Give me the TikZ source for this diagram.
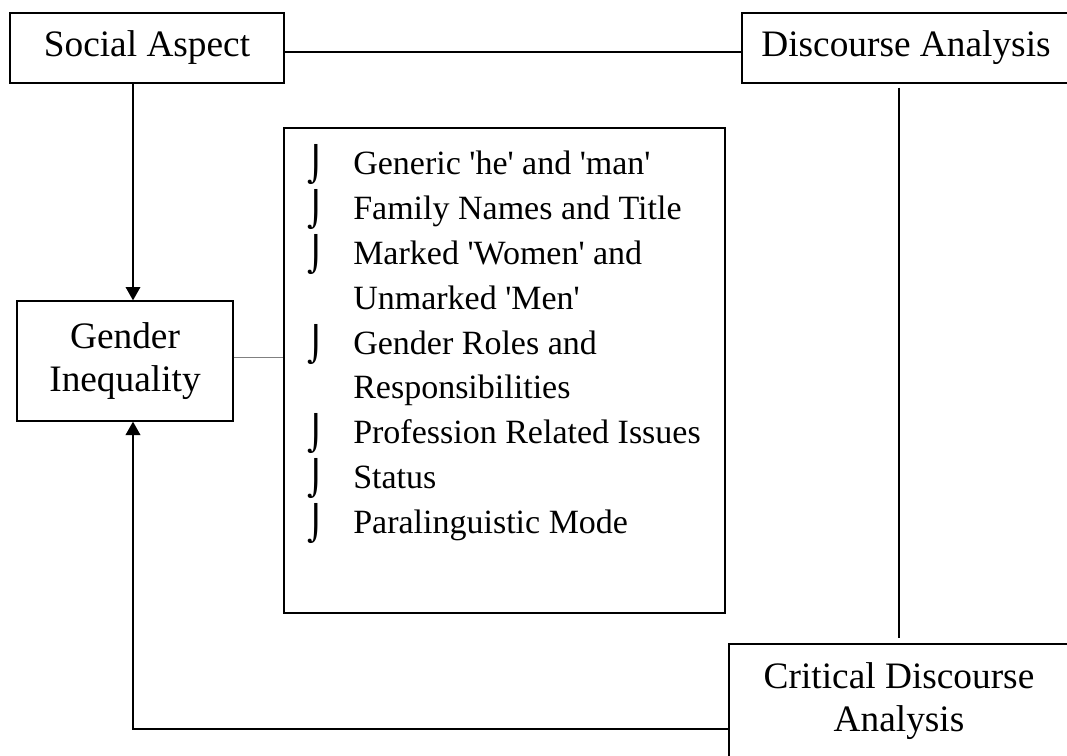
\documentclass[tikz,border=0pt]{standalone}
\usepackage{fontspec}
\setmainfont{Liberation Serif}[Ligatures=TeXOff]
\newfontfamily\bulletfont{DejaVu Sans}
\usepackage{tikz}
\usetikzlibrary{arrows.meta,calc}
\tikzset{
  box/.style={draw=black, line width=1pt, align=center, inner sep=0pt, font=\fontsize{28}{32}\selectfont},
  link/.style={draw=black, line width=1pt},
  thinlink/.style={draw=gray, line width=0.7pt},
  arr/.style={link, -{Triangle[length=10pt,width=11pt]}},
  itm/.style={anchor=base west, inner sep=0pt, font=\fontsize{25.5}{30}\selectfont},
  blt/.style={anchor=base, inner sep=0pt, font=\bulletfont\fontsize{25.5}{30}\selectfont},
}

\begin{document}
\begin{tikzpicture}[x=0.75pt,y=-0.75pt]
  \useasboundingbox (0,0) rectangle (1067,756);
  \clip (0,0) rectangle (1067,756);
  \coordinate (spine) at (133,0);

  % boxes
  \node[box, minimum width=205.5pt, minimum height=52.5pt] (soc) at (147,48) {Social Aspect};
  \node[box, minimum width=246pt, minimum height=52.5pt] (da) at (906,48) {Discourse Analysis};
  \node[box, minimum width=162pt, minimum height=90pt] (gi) at (125,361) {Gender\\Inequality};
  \node[box, minimum width=330.75pt, minimum height=363.75pt] (lst) at (504.5,370.5) {};
  \node[box, minimum width=255pt, minimum height=85.5pt] (cda) at (899,701) {Critical Discourse\\Analysis};

  % list inside the middle box
  \foreach \k/\txt in {0/{Generic 'he' and 'man'}, 1/{Family Names and Title},
      2/{Marked 'Women' and}, 3/{Unmarked 'Men'}, 4/{Gender Roles and},
      5/{Responsibilities}, 6/{Profession Related Issues}, 7/{Status},
      8/{Paralinguistic Mode}}
    \node[itm] (line\k) at (353,{175+\k*44.75}) {\txt};
  \foreach \k in {0,1,2,4,6,7,8}
    \node[blt] (mark\k) at (316,{177+\k*44.75}) {⌡};

  % connectors
  \draw[link] ([yshift=-3pt]soc.east) -- ([yshift=-3pt]da.west);
  \draw[arr] (soc.south -| spine) -- (gi.north -| spine);
  \draw[thinlink] ([yshift=3pt]gi.east) -- ([yshift=3pt]gi.east -| lst.west);
  \draw[link, shorten <=3pt, shorten >=4pt] (da.south -| cda.north) -- (cda.north);
  \draw[arr] ([yshift=-21pt]cda.west) -| (gi.south -| spine);
\end{tikzpicture}
\end{document}
